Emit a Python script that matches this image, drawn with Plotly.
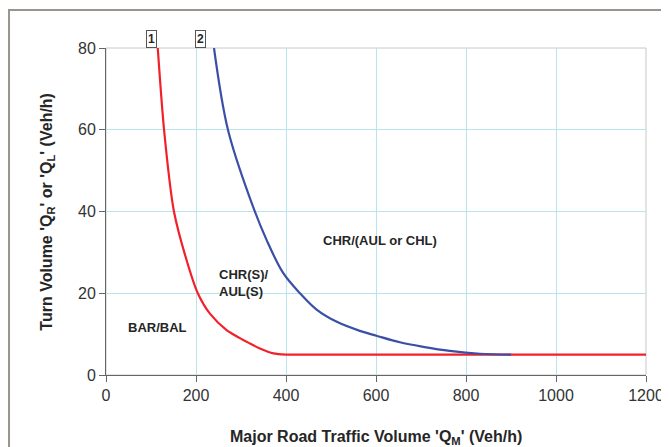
import plotly.graph_objects as go

# Curve 1 (red): BAR/BAL boundary
q1 = [115, 129, 151, 181, 204, 231, 268, 320, 342, 372, 400, 500, 800, 1200]
t1 = [80, 60, 40, 27.4, 20, 15, 11, 7.7, 6.5, 5.3, 5, 5, 5, 5]

# Curve 2 (blue): CHR(S)/AUL(S) boundary
q2 = [240, 271, 320, 357, 394, 431, 468, 513, 564, 601, 653, 705, 764, 831, 900]
t2 = [80, 60, 43.2, 33, 24.9, 20, 16.0, 13, 10.8, 9.6, 8.0, 6.9, 5.9, 5.2, 5]

x_ticks = [0, 200, 400, 600, 800, 1000, 1200]
y_ticks = [0, 20, 40, 60, 80]

FONT = "Liberation Sans, Arial, sans-serif"

fig = go.Figure()
fig.add_trace(go.Scatter(x=q1, y=t1, mode="lines",
                         line=dict(color="#f2202a", width=2.2, shape="spline", smoothing=0.7),
                         hoverinfo="skip"))
fig.add_trace(go.Scatter(x=q2, y=t2, mode="lines",
                         line=dict(color="#3a4fa6", width=2.2, shape="spline", smoothing=1.0),
                         hoverinfo="skip"))

ann_font = dict(family=FONT, size=13, color="#262626")
fig.add_annotation(x=609, y=33, text="<b>CHR/(AUL or CHL)</b>", showarrow=False, font=ann_font)
fig.add_annotation(x=247, y=22.6, text="<b>CHR(S)/<br>AUL(S)</b>", showarrow=False,
                   font=ann_font, xanchor="left", align="left")
fig.add_annotation(x=114, y=11.5, text="<b>BAR/BAL</b>", showarrow=False, font=ann_font)

for xv, lab in [(102, "1"), (211, "2")]:
    fig.add_annotation(x=xv, y=1.055, yref="paper", text="<b>%s</b>" % lab, showarrow=False,
                       font=dict(family=FONT, size=12, color="#262626"),
                       bordercolor="#555555", borderwidth=1, borderpad=1, bgcolor="white")

# axis titles
fig.add_annotation(x=0.5, y=-0.19, xref="paper", yref="paper", showarrow=False,
                   xanchor="center", yanchor="middle",
                   text="<b>Major Road Traffic Volume 'Q<sub>M</sub>' (Veh/h)</b>",
                   font=dict(family=FONT, size=16, color="#262626"))
fig.add_annotation(x=-0.109, y=0.50, xref="paper", yref="paper", showarrow=False, textangle=-90,
                   xanchor="center", yanchor="middle",
                   text="<b>Turn Volume 'Q<sub>R</sub>' or 'Q<sub>L</sub>' (Veh/h)</b>",
                   font=dict(family=FONT, size=16, color="#262626"))

# plot-area border (light gray)
fig.add_shape(type="rect", xref="paper", yref="paper", x0=0, y0=0, x1=1, y1=1,
              line=dict(color="#c8c8c8", width=1), layer="below")
# outer frame
fig.add_shape(type="rect", xref="paper", yref="paper", x0=-0.1796, y0=-0.35, x1=1.1, y1=1.116,
              line=dict(color="#9a948e", width=2))

fig.update_layout(
    width=669, height=447,
    margin=dict(l=98, r=31, t=40, b=80, autoexpand=False),
    paper_bgcolor="white", plot_bgcolor="white",
    showlegend=False,
    font=dict(family=FONT, color="#333333"),
)
fig.update_xaxes(range=[0, 1200], tickvals=x_ticks, ticks="outside", ticklen=6,
                 tickcolor="#666666", showline=True, linecolor="#666666", linewidth=1,
                 showgrid=True, gridcolor="#b9e3ee", gridwidth=1, zeroline=False,
                 automargin=False,
                 tickfont=dict(family=FONT, size=16, color="#333333"))
fig.update_yaxes(range=[0, 80], tickvals=y_ticks, ticks="outside", ticklen=6,
                 tickcolor="#666666", showline=True, linecolor="#666666", linewidth=1,
                 showgrid=True, gridcolor="#b9e3ee", gridwidth=1, zeroline=False,
                 automargin=False,
                 tickfont=dict(family=FONT, size=16, color="#333333"))

fig.write_html("out.html")
